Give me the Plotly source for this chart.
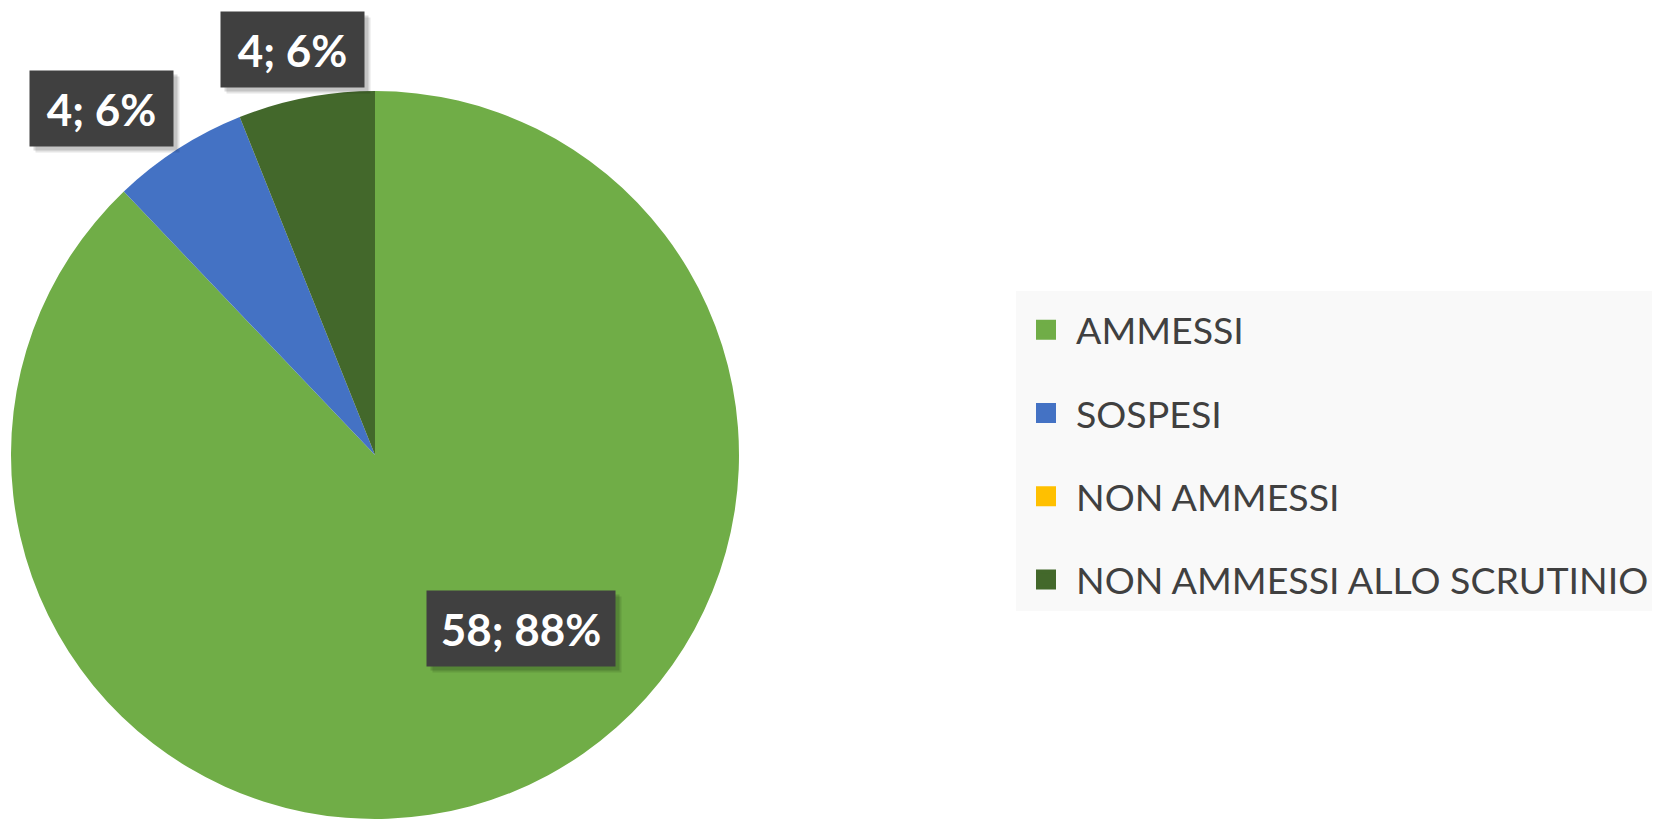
import plotly.graph_objects as go

categories = ["AMMESSI", "SOSPESI", "NON AMMESSI", "NON AMMESSI ALLO SCRUTINIO"]
values = [58, 4, 0, 4]
colors = ["#70AD47", "#4472C4", "#FFC000", "#43682B"]

total = sum(values)
label_texts = [f"{v}; {round(v / total * 100)}%" for v in values]

# figure size (the page body adds an 8px margin on the left/top)
W, H = 1652, 813

# label box centres in figure pixels for the non-zero slices
label_px = {0: (513, 620), 1: (93, 100), 3: (284, 42)}
label_w = {0: 188, 1: 143, 3: 143}

cx, cy, r = 367, 447, 364

fig = go.Figure()
fig.add_trace(go.Pie(
    labels=categories, values=values, sort=False, direction="clockwise",
    rotation=0, marker=dict(colors=colors, line=dict(width=0)),
    textinfo="none", hoverinfo="label+value+percent", showlegend=False,
    domain=dict(x=[(cx - r) / W, (cx + r) / W], y=[1 - (cy + r) / H, 1 - (cy - r) / H]),
))

for name, col in zip(categories, colors):
    fig.add_trace(go.Scatter(
        x=[None], y=[None], mode="markers", name=name, legendgroup=name,
        marker=dict(symbol="square", size=16, color=col, line=dict(width=4, color=col)),
    ))

anns = []
for i, (px, py) in label_px.items():
    xp, yp = px / W, 1 - py / H
    for k, a in ((6, 0.10), (4, 0.14)):
        anns.append(dict(x=xp, y=yp, xref="paper", yref="paper", xanchor="center", yanchor="middle",
                         text="", showarrow=False, width=label_w[i], height=75, borderpad=0,
                         bgcolor=f"rgba(0,0,0,{a})", xshift=k, yshift=-k))
    anns.append(dict(x=xp, y=yp, xref="paper", yref="paper", xanchor="center", yanchor="middle",
                     text=f"<b>{label_texts[i]}</b>", showarrow=False, width=label_w[i], height=75,
                     borderpad=0, bgcolor="#404040",
                     font=dict(family="Lato", size=44, color="white")))

fig.update_layout(
    width=W, height=H, margin=dict(l=0, r=0, t=0, b=0),
    paper_bgcolor="white", plot_bgcolor="white",
    xaxis=dict(visible=False), yaxis=dict(visible=False),
    annotations=anns,
    legend=dict(x=1008 / W, y=1 - 283 / H, xanchor="left", yanchor="top",
                bgcolor="#f9f9f9", font=dict(family="Lato", size=37.5, color="#404040"),
                title=dict(text="\u00a0", font=dict(size=6)),
                tracegroupgap=31.5, itemsizing="trace", itemwidth=50),
)
fig.write_html("out.html")
